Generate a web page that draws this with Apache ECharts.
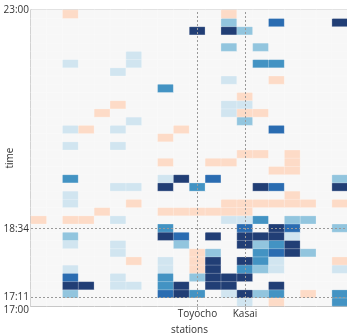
<!DOCTYPE html>
<html><head><meta charset="utf-8">
<script src="https://cdn.jsdelivr.net/npm/echarts@6/dist/echarts.min.js"></script>
<style>html,body{margin:0;padding:0;background:#fff}#c{width:347px;height:336px}</style>
</head><body><div id="c"></div>
<script>
const stations = ['Waseda','Kagurazaka','Iidabashi','Kudanshita','Takebashi','Otemachi','Nihombashi','Kayabacho','Monzen-nakacho','Kiba','Toyocho','Minami-sunamachi','Nishi-kasai','Kasai','Urayasu','Minami-gyotoku','Gyotoku','Myoden','Baraki-nakayama','Nishi-funabashi'];
const labeledStations = ['Toyocho','Kasai'];
const timeBins = ['17:00','17:10','17:20','17:30','17:40','17:50','18:00','18:10','18:20','18:30','18:40','18:50','19:00','19:10','19:20','19:30','19:40','19:50','20:00','20:10','20:20','20:30','20:40','20:50','21:00','21:10','21:20','21:30','21:40','21:50','22:00','22:10','22:20','22:30','22:40','22:50'];
const timeTicks = [0, 11, 94, 360];          // minutes after 17:00
const timeTickLabels = ['17:00','17:11','18:34','23:00'];
const markedTimes = [11, 94];
// level per cell, rows from 17:00 (bottom) upward, columns = stations
const levels = [
 [0,0,0,0,0,0,0,0,0,0,0,0,0,1,0,-1,0,0,0,3],
 [0,0,2,0,0,0,0,0,4,5,3,0,1,5,2,3,0,-1,0,3],
 [0,0,5,5,0,1,1,0,3,5,0,5,5,0,0,5,0,0,0,0],
 [0,0,4,0,0,1,0,0,3,0,2,5,5,5,0,0,0,0,0,0],
 [0,0,1,0,0,0,0,0,1,0,-1,5,0,3,2,1,0,0,0,1],
 [0,0,0,0,0,0,-1,0,1,0,-1,5,0,5,3,1,0,0,0,-1],
 [0,0,0,0,0,1,0,0,0,0,-1,2,0,0,3,4,5,2,0,0],
 [0,0,1,0,0,1,0,0,0,2,0,0,0,5,2,3,5,0,0,0],
 [0,0,2,0,0,0,0,0,5,4,0,5,0,5,5,5,1,0,0,0],
 [0,0,0,0,0,0,0,0,3,0,0,0,0,4,0,5,4,0,0,2],
 [-1,0,-1,-1,0,1,0,0,0,0,0,0,1,1,3,0,2,2,0,0],
 [0,0,0,0,-1,0,0,0,-1,-1,-1,-1,-1,-1,0,0,0,0,0,0],
 [0,0,1,0,0,0,-1,0,0,0,0,0,-1,-1,-1,-1,-1,-1,0,-1],
 [0,0,1,0,0,0,0,0,0,0,0,0,0,0,0,0,-1,0,0,0],
 [0,0,0,0,0,1,1,0,5,0,3,0,0,0,5,4,0,0,0,5],
 [0,0,3,0,0,0,0,0,1,5,0,4,0,0,0,0,0,0,0,2],
 [0,0,0,0,0,0,0,0,0,0,0,0,0,0,0,-1,-1,0,0,0],
 [0,0,0,0,0,0,0,0,-1,0,0,-1,-1,0,0,0,-1,0,0,0],
 [0,0,0,0,0,0,0,0,0,0,0,0,0,-1,-1,0,-1,0,0,0],
 [0,0,1,0,0,1,0,0,0,0,0,0,0,0,0,0,0,0,0,0],
 [0,0,0,0,0,0,0,0,-1,0,0,0,0,0,0,0,0,0,0,0],
 [0,0,1,-1,0,1,0,0,0,-1,0,0,0,0,0,4,0,0,0,0],
 [0,0,0,0,0,0,1,0,0,0,0,0,0,2,0,0,0,0,0,0],
 [0,0,0,0,-1,0,0,0,0,0,0,0,1,-1,-1,0,0,0,0,0],
 [0,0,0,0,0,-1,0,0,0,0,0,0,1,1,0,0,0,0,0,0],
 [0,0,0,0,0,0,0,0,0,0,0,0,0,-1,0,0,0,0,0,0],
 [0,0,0,0,0,0,0,0,3,0,0,0,0,0,0,0,0,0,0,0],
 [0,0,0,0,0,0,0,0,0,0,0,0,1,0,0,-1,0,0,0,0],
 [0,0,0,0,0,1,0,0,0,0,0,0,0,0,0,0,0,0,0,0],
 [0,0,1,0,0,0,1,0,0,0,0,0,0,0,3,3,0,0,0,0],
 [0,0,0,0,0,0,1,0,0,0,0,0,0,0,0,0,0,0,0,0],
 [0,0,0,0,0,0,0,0,0,0,0,0,2,0,2,0,0,0,0,0],
 [0,0,0,0,0,0,0,0,0,0,0,0,0,0,0,0,0,0,0,0],
 [0,0,0,0,0,0,0,0,0,0,5,0,5,2,0,0,0,0,0,0],
 [0,0,0,0,0,0,0,0,0,0,0,0,2,0,0,4,0,0,0,5],
 [0,0,-1,0,0,0,0,0,0,0,0,0,-1,0,0,0,0,0,0,0]
];
const levelColors = {'-1':'#fddbc7','0':'#f7f7f7','1':'#d1e5f0','2':'#92c5de','3':'#4393c3','4':'#2a6cb1','5':'#213e75'};

const cells = [];
levels.forEach((row, r) => row.forEach((v, c) => cells.push([c, r, v])));

const font = 'Open Sans';
const chart = echarts.init(document.getElementById('c'), null, {renderer: 'canvas'});
chart.setOption({
  animation: false,
  backgroundColor: '#fff',
  grid: {left: 31, top: 10, width: 317, height: 296, outerBoundsMode: 'none', containLabel: false,
    show: true, borderColor: '#a8a8a8', borderWidth: 1, backgroundColor: '#f7f7f7'},
  visualMap: {type: 'piecewise', show: false, dimension: 2,
    pieces: Object.keys(levelColors).map(k => ({value: Number(k), color: levelColors[k]}))},
  xAxis: {type: 'category', data: stations,
    name: 'stations', nameLocation: 'middle', nameGap: 19, nameMoveOverlap: false,
    nameTextStyle: {fontFamily: font, fontSize: 10, color: '#333'},
    axisLine: {show: true, lineStyle: {color: '#a8a8a8'}},
    axisTick: {show: true, alignWithLabel: true, length: 4, interval: (i, v) => labeledStations.includes(v), lineStyle: {color: '#aaa'}},
    axisLabel: {interval: 0, margin: 3, fontFamily: font, fontSize: 10, color: '#333', formatter: v => labeledStations.includes(v) ? v : ''},
    splitLine: {show: false}},
  yAxis: [
    {type: 'category', data: timeBins, show: false},
    {type: 'value', min: 0, max: 360, position: 'left',
     name: 'time', nameLocation: 'middle', nameGap: 16, nameMoveOverlap: false,
     nameTextStyle: {fontFamily: font, fontSize: 10, color: '#333'},
     axisLine: {show: true, lineStyle: {color: '#b0b0b0', width: 1.5}},
     axisTick: {show: false}, splitLine: {show: false},
     axisLabel: {customValues: timeTicks, margin: 2, fontFamily: font, fontSize: 10, color: '#333',
       formatter: v => { const i = timeTicks.indexOf(v); const t = i >= 0 ? timeTickLabels[i] : ''; return v === 0 ? '{low|' + t + '}' : t; },
       rich: {low: {fontFamily: font, fontSize: 10, color: '#333', padding: [8, 0, 0, 0]}}}}
  ],
  series: [
    {type: 'heatmap', xAxisIndex: 0, yAxisIndex: 0, data: cells,
     itemStyle: {borderColor: 'rgba(255,255,255,0.5)', borderWidth: 0.5}, emphasis: {disabled: true}},
    {type: 'line', xAxisIndex: 0, yAxisIndex: 1, data: [], symbol: 'none', silent: true, z: 5,
     markLine: {silent: true, symbol: 'none', label: {show: false},
       lineStyle: {type: [2, 2], color: '#999', width: 1},
       data: labeledStations.map(s => ({xAxis: s})).concat(markedTimes.map(t => ({yAxis: t})))}}
  ]
});
</script></body></html>
